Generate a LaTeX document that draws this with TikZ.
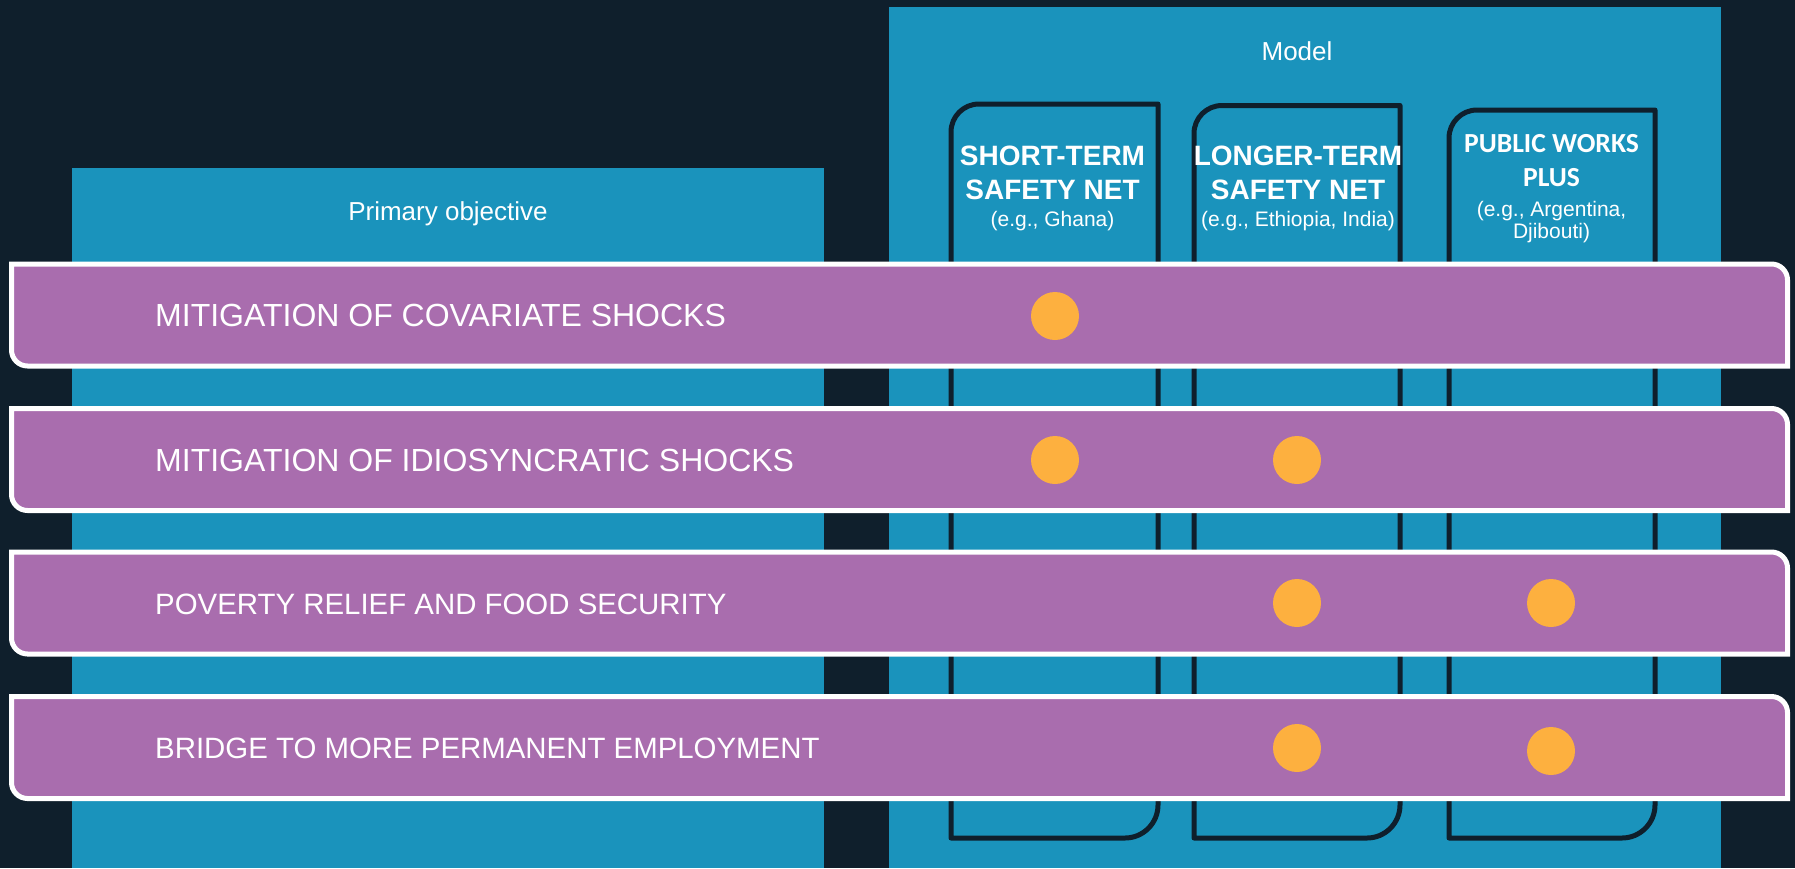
\documentclass[tikz,border=0pt]{standalone}
\usepackage{fontspec}
\setmainfont{Liberation Sans}
\newfontfamily\carlito{Carlito}
\definecolor{bgc}{HTML}{0F1F2C}
\definecolor{bluec}{HTML}{1A93BC}
\definecolor{purplec}{HTML}{A96DAE}
\definecolor{orangec}{HTML}{FDB03F}
\tikzset{
  panel/.style={fill=bluec, draw=none},
  colframe/.style={draw=bgc, line width=5pt, fill=bluec, line join=round},
  barshape/.style={draw=white, line width=5pt, fill=purplec},
  headtxt/.style={inner sep=0pt, anchor=base, text=white, font=\fontsize{26}{30}\selectfont},
  boldtxt/.style={inner sep=0pt, anchor=base, text=white, font=\fontsize{28}{32}\selectfont\bfseries},
  plustxt/.style={inner sep=0pt, anchor=base, text=white, font=\carlito\fontsize{27.6}{31}\selectfont\bfseries},
  subtxt/.style={inner sep=0pt, anchor=base, text=white, font=\fontsize{21}{24}\selectfont},
  bartxt/.style={inner sep=0pt, anchor=base west, text=white, font=\fontsize{32}{36}\selectfont},
  bartxtsm/.style={inner sep=0pt, anchor=base west, text=white, font=\fontsize{29.4}{34}\selectfont},
  dot/.style={circle, fill=orangec, draw=none, minimum size=48pt, inner sep=0pt}
}
\begin{document}
\begin{tikzpicture}[x=1pt, y=-1pt]
\fill[bgc] (0,0) rectangle (1795,868);
\useasboundingbox (0,0) rectangle (1795,868);

% panels
\fill[panel] (72,168) rectangle (824,868);
\fill[panel] (889,7) rectangle (1721,868);
\node[headtxt] (primary) at (448,220) {Primary objective};
\node[headtxt] (model) at (1297,60) {Model};

% column frames
\foreach \L/\R/\T in {951/1158/104, 1194/1400/105.5, 1449/1655/110}{
  \draw[colframe] (\L,838) -- (\L,\T+28) .. controls (\L,\T+12.5) and (\L+12.5,\T) .. (\L+28,\T)
    -- (\R,\T) -- (\R,805) .. controls (\R,823.2) and (\R-14.8,838) .. (\R-33,838) -- cycle;
}

% column headers
\node[boldtxt] (c1a) at (1052.5,165) {SHORT-TERM};
\node[boldtxt] (c1b) at (1052.5,199) {SAFETY NET};
\node[subtxt] (c1c) at (1052.5,226) {(e.g., Ghana)};
\node[boldtxt] (c2a) at (1298,165) {LONGER-TERM};
\node[boldtxt] (c2b) at (1298,199) {SAFETY NET};
\node[subtxt] (c2c) at (1298,226) {(e.g., Ethiopia, India)};
\node[plustxt] (c3a) at (1551.5,152) {PUBLIC WORKS};
\node[plustxt] (c3b) at (1551.5,186) {PLUS};
\node[subtxt] (c3c) at (1551.5,216) {(e.g., Argentina,};
\node[subtxt] (c3d) at (1551.5,238) {Djibouti)};

% bars
\foreach \c in {315, 459.5, 603, 747.5}{
  \draw[barshape] (11.5,\c-51) -- (1771.5,\c-51) .. controls (1780.3,\c-51) and (1787.5,\c-43.8) .. (1787.5,\c-35)
    -- (1787.5,\c+51) -- (27.5,\c+51) .. controls (18.7,\c+51) and (11.5,\c+43.8) .. (11.5,\c+35) -- cycle;
}
\node[bartxt] (r1) at (155,326.5) {MITIGATION OF COVARIATE SHOCKS};
\node[bartxt] (r2) at (155,471) {MITIGATION OF IDIOSYNCRATIC SHOCKS};
\node[bartxtsm] (r3) at (155,614) {POVERTY RELIEF AND FOOD SECURITY};
\node[bartxtsm] (r4) at (155,758.5) {BRIDGE TO MORE PERMANENT EMPLOYMENT};

% dots
\node[dot] (d11) at (1055,316) {};
\node[dot] (d21) at (1055,460) {};
\node[dot] (d22) at (1297,460) {};
\node[dot] (d32) at (1297,603) {};
\node[dot] (d33) at (1551,603) {};
\node[dot] (d42) at (1297,748) {};
\node[dot] (d43) at (1551,751) {};
\end{tikzpicture}
\end{document}
